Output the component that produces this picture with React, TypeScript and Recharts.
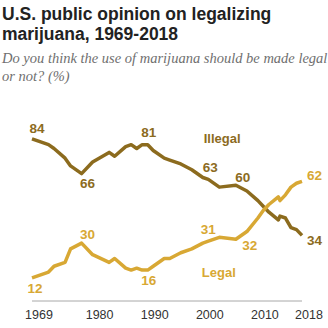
import { LineChart, Line, XAxis, YAxis, LabelList, ReferenceDot } from "recharts"

// survey years and shares (%)
const years = [1969, 1972, 1973, 1975, 1976, 1978, 1980, 1983, 1984, 1986, 1987, 1988, 1989, 1990, 1991, 1993, 1994, 1996, 1998, 2000, 2001, 2003, 2006, 2008, 2010, 2011, 2012, 2013.7, 2014, 2015, 2016, 2017, 2018]
const illegal = [84, 81, 79, 74, 70, 66, 72, 77, 75, 80, 81, 79, 81, 81, 78, 74, 73, 71, 68, 64, 63, 59, 60, 57, 52, 49, 46, 42, 44, 43, 38, 37, 34]
const legal = [12, 15, 18, 20, 27, 30, 24, 20, 22, 17, 16, 17, 16, 16, 18, 22, 22, 25, 27, 30, 31, 33, 32, 36, 43, 47, 50, 54, 52, 55, 59, 61, 62]
const xTicks = [1969, 1980, 1990, 2000, 2010, 2018]
const labeledYears = [1969, 1978, 1990, 2001, 2006, 2018]

const ILLEGAL_COLOR = "#8c6b1e"
const LEGAL_COLOR = "#d8a834"
const SANS = "'Liberation Sans', Arial, sans-serif"

// label placement relative to the point: [dx, dy, anchor]
const illegalOffsets: [number, number, string][] = [
  [5, -6, "middle"],
  [6, 14, "middle"],
  [1, -8, "middle"],
  [2, -7, "middle"],
  [7, -3.5, "middle"],
  [5, 10, "start"],
]
const legalOffsets: [number, number, string][] = [
  [3, 15, "middle"],
  [6, -4.5, "middle"],
  [1, 14.5, "middle"],
  [0, -7.5, "middle"],
  [14, 10.5, "middle"],
  [5, -1.5, "start"],
]

const data = years.map((year, i) => ({ year, illegal: illegal[i], legal: legal[i] }))

function makeLabel(offsets: [number, number, string][], color: string) {
  return (props: any) => {
    const k = labeledYears.indexOf(years[props.index])
    if (k < 0) return null
    const [dx, dy, anchor] = offsets[k]
    return (
      <text
        x={props.x + dx}
        y={props.y + dy}
        textAnchor={anchor as any}
        fill={color}
        fontSize={13.5}
        fontWeight="bold"
        fontFamily={SANS}
      >
        {props.value}
      </text>
    )
  }
}

const YearTick = ({ x, y, payload }: any) => (
  <text x={x + 7} y={y + 18} textAnchor="middle" fill="#333" fontSize={12.5} fontFamily={SANS}>
    {payload.value}
  </text>
)

export default function App() {
  return (
    <div style={{ position: "absolute", left: 0, top: 0, width: 328, height: 328, overflow: "hidden", background: "#fff" }}>
      <div style={{ position: "absolute", left: 2, top: 4, fontFamily: SANS, fontWeight: "bold", fontSize: 17.5, lineHeight: "20px", color: "#222", whiteSpace: "nowrap" }}>
        <div>U.S. public opinion on legalizing</div>
        <div>marijuana, 1969-2018</div>
      </div>
      <div style={{ position: "absolute", left: 2, top: 49, fontFamily: "'Liberation Serif', serif", fontStyle: "italic", fontSize: 14.5, lineHeight: "18px", color: "#6f6f6f", whiteSpace: "nowrap" }}>
        <div>Do you think the use of marijuana should be made legal</div>
        <div>or not? (%)</div>
      </div>
      <div style={{ position: "absolute", left: 0, top: 100 }}>
        <LineChart width={328} height={228} data={data} margin={{ top: 8, right: 26, bottom: 0, left: 32 }}>
          <XAxis
            dataKey="year"
            type="number"
            domain={[1969, 2018]}
            ticks={xTicks}
            interval={0}
            height={27}
            tickLine={false}
            tickSize={0}
            tickMargin={0}
            axisLine={{ stroke: "#a8a8a8" }}
            tick={<YearTick />}
          />
          <YAxis hide domain={[0, 100]} />
          <Line
            dataKey="illegal"
            stroke={ILLEGAL_COLOR}
            strokeWidth={3.5}
            strokeLinejoin="round"
            dot={false}
            isAnimationActive={false}
          >
            <LabelList dataKey="illegal" content={makeLabel(illegalOffsets, ILLEGAL_COLOR)} />
          </Line>
          <Line
            dataKey="legal"
            stroke={LEGAL_COLOR}
            strokeWidth={3.5}
            strokeLinejoin="round"
            dot={false}
            isAnimationActive={false}
          >
            <LabelList dataKey="legal" content={makeLabel(legalOffsets, LEGAL_COLOR)} />
          </Line>
          <ReferenceDot
            x={2003.5}
            y={84.5}
            r={0}
            fill="none"
            stroke="none"
            label={{ value: "Illegal", position: "center", fill: ILLEGAL_COLOR, fontSize: 13, fontWeight: "bold", fontFamily: SANS }}
          />
          <ReferenceDot
            x={2002.9}
            y={15}
            r={0}
            fill="none"
            stroke="none"
            label={{ value: "Legal", position: "center", fill: LEGAL_COLOR, fontSize: 13, fontWeight: "bold", fontFamily: SANS }}
          />
        </LineChart>
      </div>
    </div>
  )
}
